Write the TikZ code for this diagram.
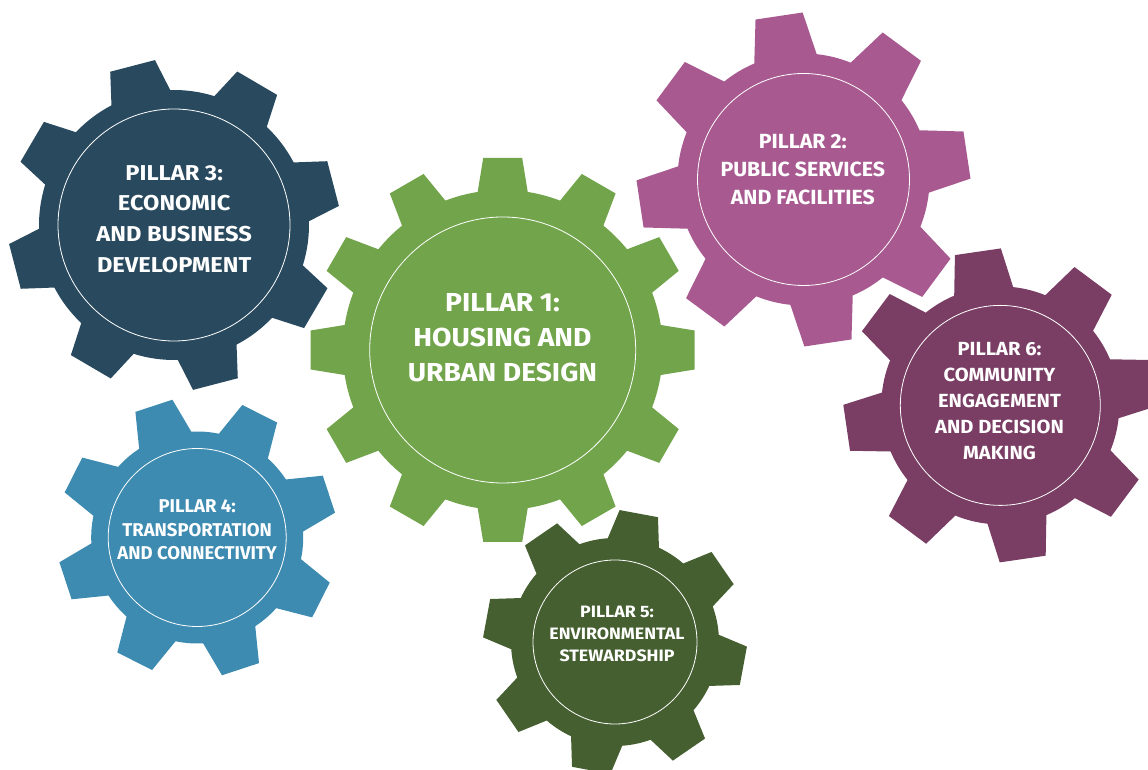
\documentclass[tikz,border=0pt]{standalone}
\usepackage{fontspec}
\setmainfont{Fira Sans}
\definecolor{gA}{HTML}{72A54B}
\definecolor{gB}{HTML}{A85A90}
\definecolor{gC}{HTML}{28495E}
\definecolor{gD}{HTML}{3E8BB1}
\definecolor{gE}{HTML}{455F30}
\definecolor{gF}{HTML}{7A3E64}
\newcommand{\drawgear}[9]{%
  \begin{scope}[shift={(#2,#3)}]
    \pgfmathsetmacro\gstep{360/#4}
    \pgfmathtruncatemacro\glast{#4-1}
    \fill[#1] (#5-#9:#7pt)
      \foreach \k [evaluate=\k as \ga using {#5+\k*\gstep}] in {0,...,\glast} {
        -- (\ga-#9:#7pt) -- (\ga-#8:#6pt) -- (\ga+#8:#6pt) -- (\ga+#9:#7pt)
        arc[start angle=\ga+#9, end angle=\ga+\gstep-#9, radius=#7pt]
      } -- cycle;
  \end{scope}}
\newcommand{\lblfont}[3]{\bfseries\addfontfeature{FakeStretch=#1}\fontsize{#2}{#3}\selectfont}
\tikzset{
  ring/.style={circle, draw=white, line width=0.8pt, inner sep=0pt},
  lbl/.style={text=white, align=center, inner sep=0pt},
}
\begin{document}
\begin{tikzpicture}[x=1pt,y=1pt]
\useasboundingbox (0,0) rectangle (1148,770);
\clip (0,0) rectangle (1148,770);
% gears: color, cx, cy, teeth, phase, r_out, r_root, tip half-angle, base half-angle
\drawgear{gC}{174}{545}{8}{14.6}{166}{135}{8}{13}
\drawgear{gB}{803.5}{590.5}{8}{8.5}{167}{126}{8.2}{14.5}
\drawgear{gF}{1000.3}{364.6}{8}{8.3}{157}{119}{8.5}{14.5}
\drawgear{gD}{197.2}{232.5}{8}{18.2}{140}{106}{8}{15}
\drawgear{gE}{615}{128}{8}{-10.5}{132}{104}{8.5}{14.5}
\drawgear{gA}{502.7}{420}{12}{0}{193}{160}{5.8}{9}
% inner rings
\node[ring, minimum size=266pt] (c1) at (502.7,420) {};
\node[ring, minimum size=212pt] (c2) at (803.5,590.5) {};
\node[ring, minimum size=232pt] (c3) at (174,545) {};
\node[ring, minimum size=178pt] (c4) at (197.2,232.5) {};
\node[ring, minimum size=164pt] (c5) at (615,128) {};
\node[ring, minimum size=200pt] (c6) at (1000.3,364.6) {};
% labels
\node[lbl, font=\lblfont{1.085}{26}{35}] (t1) at (502.5,432.3) {PILLAR 1:\\HOUSING AND\\URBAN DESIGN};
\node[lbl, font=\lblfont{1.04}{20.5}{28}] (t2) at (802.8,600.3) {PILLAR 2:\\PUBLIC SERVICES\\AND FACILITIES};
\node[lbl, font=\lblfont{1.10}{21.5}{30.7}] (t3) at (174.2,551) {PILLAR 3:\\ECONOMIC\\AND BUSINESS\\DEVELOPMENT};
\node[lbl, font=\lblfont{1.0}{18.5}{23.7}] (t4) at (197.2,240.2) {PILLAR 4:\\TRANSPORTATION\\AND CONNECTIVITY};
\node[lbl, font=\lblfont{1.08}{16.5}{22}] (t5) at (617,135.6) {PILLAR 5:\\ENVIRONMENTAL\\STEWARDSHIP};
\node[lbl, font=\lblfont{1.06}{19}{26}] (t6) at (999.5,369.3) {PILLAR 6:\\COMMUNITY\\ENGAGEMENT\\AND DECISION\\MAKING};
\end{tikzpicture}
\end{document}
